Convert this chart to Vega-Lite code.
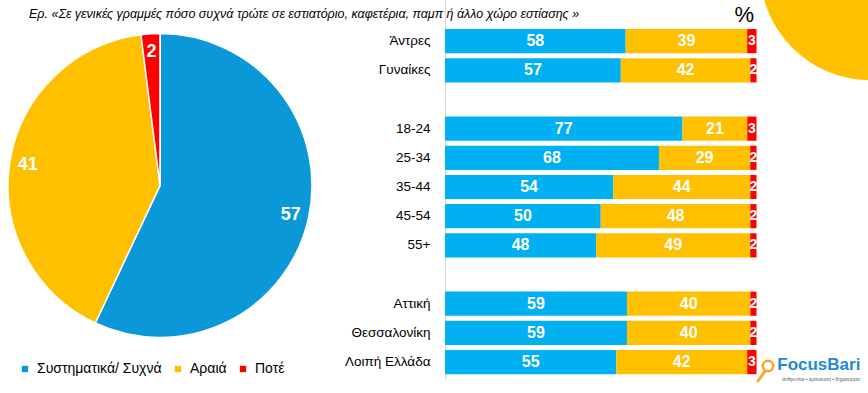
{
  "$schema": "https://vega.github.io/schema/vega-lite/v6.json",
  "background": "white",
  "padding": 0,
  "bounds": "flush",
  "spacing": 125,
  "config": {"view": {"stroke": null}, "font": "Liberation Sans"},
  "datasets": {
    "pie": [
      {"answer": "Συστηματικά/ Συχνά", "value": 57, "k": 1},
      {"answer": "Αραιά", "value": 41, "k": 2},
      {"answer": "Ποτέ", "value": 2, "k": 3}
    ],
    "bars": [
      {"group": "Άντρες", "answer": "Συστηματικά/ Συχνά", "value": 58, "k": 1},
      {"group": "Άντρες", "answer": "Αραιά", "value": 39, "k": 2},
      {"group": "Άντρες", "answer": "Ποτέ", "value": 3, "k": 3},
      {"group": "Γυναίκες", "answer": "Συστηματικά/ Συχνά", "value": 57, "k": 1},
      {"group": "Γυναίκες", "answer": "Αραιά", "value": 42, "k": 2},
      {"group": "Γυναίκες", "answer": "Ποτέ", "value": 2, "k": 3},
      {"group": "18-24", "answer": "Συστηματικά/ Συχνά", "value": 77, "k": 1},
      {"group": "18-24", "answer": "Αραιά", "value": 21, "k": 2},
      {"group": "18-24", "answer": "Ποτέ", "value": 3, "k": 3},
      {"group": "25-34", "answer": "Συστηματικά/ Συχνά", "value": 68, "k": 1},
      {"group": "25-34", "answer": "Αραιά", "value": 29, "k": 2},
      {"group": "25-34", "answer": "Ποτέ", "value": 2, "k": 3},
      {"group": "35-44", "answer": "Συστηματικά/ Συχνά", "value": 54, "k": 1},
      {"group": "35-44", "answer": "Αραιά", "value": 44, "k": 2},
      {"group": "35-44", "answer": "Ποτέ", "value": 2, "k": 3},
      {"group": "45-54", "answer": "Συστηματικά/ Συχνά", "value": 50, "k": 1},
      {"group": "45-54", "answer": "Αραιά", "value": 48, "k": 2},
      {"group": "45-54", "answer": "Ποτέ", "value": 2, "k": 3},
      {"group": "55+", "answer": "Συστηματικά/ Συχνά", "value": 48, "k": 1},
      {"group": "55+", "answer": "Αραιά", "value": 49, "k": 2},
      {"group": "55+", "answer": "Ποτέ", "value": 2, "k": 3},
      {"group": "Αττική", "answer": "Συστηματικά/ Συχνά", "value": 59, "k": 1},
      {"group": "Αττική", "answer": "Αραιά", "value": 40, "k": 2},
      {"group": "Αττική", "answer": "Ποτέ", "value": 2, "k": 3},
      {"group": "Θεσσαλονίκη", "answer": "Συστηματικά/ Συχνά", "value": 59, "k": 1},
      {"group": "Θεσσαλονίκη", "answer": "Αραιά", "value": 40, "k": 2},
      {"group": "Θεσσαλονίκη", "answer": "Ποτέ", "value": 2, "k": 3},
      {"group": "Λοιπή Ελλάδα", "answer": "Συστηματικά/ Συχνά", "value": 55, "k": 1},
      {"group": "Λοιπή Ελλάδα", "answer": "Αραιά", "value": 42, "k": 2},
      {"group": "Λοιπή Ελλάδα", "answer": "Ποτέ", "value": 3, "k": 3}
    ]
  },
  "hconcat": [
    {
      "width": 320,
      "height": 371,
      "title": {
        "text": "Ερ. «Σε γενικές γραμμές πόσο συχνά τρώτε σε εστιατόριο, καφετέρια, παμπ ή άλλο χώρο εστίασης »",
        "anchor": "start",
        "frame": "group",
        "dx": 29,
        "offset": -20.5,
        "fontSize": 12.5,
        "fontStyle": "italic",
        "fontWeight": "normal",
        "color": "#000000"
      },
      "data": {"name": "pie"},
      "layer": [
        {
          "mark": {"type": "arc", "outerRadius": 152, "stroke": "#ffffff", "strokeWidth": 1.5},
          "encoding": {
            "theta": {"field": "value", "type": "quantitative", "stack": true},
            "order": {"field": "k", "type": "quantitative"},
            "color": {
              "field": "answer",
              "type": "nominal",
              "scale": {"domain": ["Συστηματικά/ Συχνά", "Αραιά", "Ποτέ"], "range": ["#0A98D8", "#FFC000", "#FF0000"]},
              "legend": {
                "orient": "none",
                "legendX": 18,
                "legendY": 362,
                "direction": "horizontal",
                "title": null,
                "symbolType": "square",
                "symbolSize": 40,
                "symbolStrokeWidth": 0,
                "labelFontSize": 14,
                "labelColor": "#000000",
                "columnPadding": 9,
                "labelOffset": 5
              }
            }
          }
        },
        {
          "mark": {"type": "text", "radius": 134, "fontSize": 18, "fontWeight": "bold", "color": "#ffffff"},
          "encoding": {
            "theta": {"field": "value", "type": "quantitative", "stack": true},
            "order": {"field": "k", "type": "quantitative"},
            "text": {"field": "value", "type": "quantitative"}
          }
        }
      ]
    },
    {
      "width": 423,
      "height": 380,
      "title": {
        "text": "%",
        "anchor": "end",
        "frame": "group",
        "dx": -114,
        "offset": -27,
        "fontSize": 22,
        "fontWeight": "normal",
        "color": "#000000"
      },
      "layer": [
        {
          "data": {"name": "bars"},
          "encoding": {
            "y": {
              "field": "group",
              "type": "nominal",
              "scale": {
                "domain": ["Άντρες", "Γυναίκες", "_a", "18-24", "25-34", "35-44", "45-54", "55+", "_b", "Αττική", "Θεσσαλονίκη", "Λοιπή Ελλάδα"],
                "paddingInner": 0.171,
                "paddingOuter": 0.597,
                "align": 0.8326,
                "round": false
              },
              "axis": {
                "title": null,
                "ticks": false,
                "grid": false,
                "labelPadding": 15,
                "labelFontSize": 13.5,
                "labelColor": "#000000",
                "domainColor": "#D9D9D9",
                "labelExpr": "indexof(datum.label, '_') == 0 ? '' : datum.label"
              }
            }
          },
          "layer": [
            {
              "mark": {"type": "bar"},
              "encoding": {
                "x": {"field": "value", "type": "quantitative", "stack": "normalize", "scale": {"domain": [0, 1.3579], "nice": false}, "axis": null},
                "order": {"field": "k", "type": "quantitative"},
                "color": {
                  "field": "answer",
                  "type": "nominal",
                  "scale": {"domain": ["Συστηματικά/ Συχνά", "Αραιά", "Ποτέ"], "range": ["#00B0F0", "#FFC000", "#FF0000"]},
                  "legend": null
                }
              }
            },
            {
              "mark": {"type": "text", "fontWeight": "bold", "color": "#ffffff"},
              "encoding": {
                "x": {"field": "value", "type": "quantitative", "stack": "normalize", "bandPosition": 0.5, "scale": {"domain": [0, 1.3579], "nice": false}, "axis": null},
                "order": {"field": "k", "type": "quantitative"},
                "text": {"field": "value", "type": "quantitative"},
                "size": {"condition": {"test": "datum.k == 3", "value": 14}, "value": 16}
              }
            }
          ]
        },
        {
          "data": {"values": [{}]},
          "layer": [
            {
              "mark": {"type": "point", "shape": "circle", "filled": true, "opacity": 1, "color": "#FFC000", "size": 48400, "clip": true},
              "encoding": {
                "x": {"datum": 1.3644, "type": "quantitative", "scale": {"domain": [0, 1.3579], "nice": false}, "axis": null},
                "y": {"datum": 107.9, "type": "quantitative", "scale": {"domain": [0, 100], "nice": false, "zero": false}, "axis": null}
              }
            },
            {
              "mark": {"type": "text", "text": "FocusBari", "fontSize": 17, "fontWeight": 600, "color": "#1E8AD2", "align": "center", "baseline": "middle"},
              "encoding": {
                "x": {"datum": 1.2, "type": "quantitative"},
                "y": {"datum": 4.0, "type": "quantitative"}
              }
            },
            {
              "mark": {"type": "text", "text": "άνθρωποι • έμπνευση • δημιουργία", "fontSize": 5, "color": "#555555", "align": "center", "baseline": "middle"},
              "encoding": {
                "x": {"datum": 1.2071, "type": "quantitative"},
                "y": {"datum": 0.3, "type": "quantitative"}
              }
            },
            {
              "mark": {"type": "point", "shape": "circle", "filled": false, "opacity": 1, "stroke": "#F5A623", "strokeWidth": 2.5, "size": 110},
              "encoding": {
                "x": {"datum": 1.0369, "type": "quantitative"},
                "y": {"datum": 3.68, "type": "quantitative"}
              }
            },
            {
              "mark": {"type": "rule", "stroke": "#F5A623", "strokeWidth": 3, "strokeCap": "round"},
              "encoding": {
                "x": {"datum": 1.0273, "type": "quantitative"},
                "x2": {"datum": 1.0048},
                "y": {"datum": 2.37, "type": "quantitative"},
                "y2": {"datum": -0.26}
              }
            }
          ]
        }
      ],
      "resolve": {"scale": {"y": "independent"}, "axis": {"y": "independent"}}
    }
  ],
  "resolve": {"scale": {"color": "independent"}, "legend": {"color": "independent"}}
}
